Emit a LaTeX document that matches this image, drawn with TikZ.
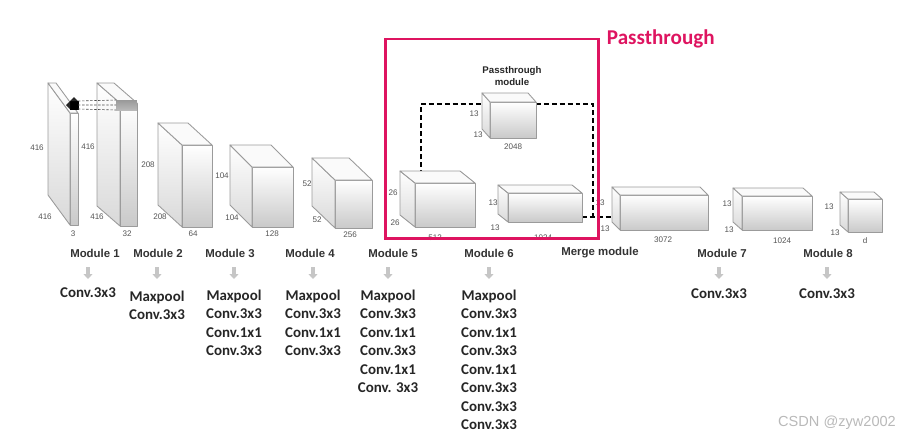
\documentclass[tikz,border=0pt]{standalone}
\usepackage{fontspec}
\setmainfont{Carlito}
\newfontfamily\labfont{Liberation Sans}
\usetikzlibrary{arrows.meta,positioning,calc,backgrounds}
\definecolor{edgegray}{RGB}{155,155,155}
\definecolor{passpink}{RGB}{222,20,96}
\definecolor{dimgray}{RGB}{85,85,85}

\tikzset{
    box3d/.style 2 args={draw=edgegray, line width=0.5pt, line join=round, top color=white, bottom color=gray!42, anchor=north west, minimum width=#1*0.02cm, minimum height=#2*0.02cm}
}

% side and top faces behind a front-face node
\newcommand{\cubefaces}[3]{%
  \shadedraw[sideface] (#1.north west) -- (#1.south west) -- ++(#2,#3) -- ($(#1.north west)+(#2,#3)$) -- cycle;
  \filldraw[topface] (#1.north west) -- (#1.north east) -- ++(#2,#3) -- ($(#1.north west)+(#2,#3)$) -- cycle;
}

\begin{document}
\begin{tikzpicture}[
    x=0.02cm, y=-0.02cm,
    every node/.style={inner sep=0pt, outer sep=0pt},
    sideface/.style={draw=edgegray, line width=0.5pt, line join=round, top color=white, bottom color=gray!30},
    topface/.style={draw=edgegray, line width=0.5pt, line join=round, fill=gray!4},
    dim/.style={font=\labfont\fontsize{4.6}{5}\selectfont, text=dimgray},
    modlab/.style={font=\labfont\bfseries\fontsize{6.5}{7.5}\selectfont, text=black!80},
    ops/.style={font=\bfseries\fontsize{8.5}{10.5}\selectfont, align=center, anchor=north, text=black!85},
    darr/.style={gray!45, line width=0.07cm, -{Triangle[length=0.1cm, width=0.18cm]}},
    skip/.style={black, line width=1.25pt, dash pattern=on 2.8pt off 1.7pt},
    ktrace/.style={black!70, line width=0.35pt, dash pattern=on 1.4pt off 0.9pt},
    passframe/.style={draw=passpink, line width=1.7pt, anchor=north west, minimum width=4.28cm, minimum height=4cm}
]
\useasboundingbox (0,0) rectangle (908,440);

% feature maps
\node[box3d={8}{112}] (in3) at (70,113) {};
\cubefaces{in3}{-22}{-30}
\node[box3d={17}{123}] (f32) at (120,103) {};
\cubefaces{f32}{-23}{-20}
\node[box3d={30}{82}] (f64) at (182,145) {};
\cubefaces{f64}{-24}{-22}
\node[box3d={41}{60}] (f128) at (252,167) {};
\cubefaces{f128}{-22}{-22}
\node[box3d={37}{48}] (f256) at (335,180) {};
\cubefaces{f256}{-23}{-22}
\node[box3d={60}{44}] (f512) at (415,183) {};
\cubefaces{f512}{-15}{-12}
\node[box3d={46}{36}] (f2048) at (490,102) {};
\cubefaces{f2048}{-8}{-9}
\node[box3d={74}{29}] (f1024) at (508,193) {};
\cubefaces{f1024}{-10}{-8}
\node[box3d={88}{35}] (f3072) at (620,195) {};
\cubefaces{f3072}{-8}{-8}
\node[box3d={70}{34}] (g1024) at (742,196) {};
\cubefaces{g1024}{-9}{-8}
\node[box3d={34}{33}] (fd) at (848,199) {};
\cubefaces{fd}{-8}{-7}

% kernel and its patch
\node[fill=black, draw=black, anchor=north west, minimum width=0.16cm, minimum height=0.16cm] (kern) at (70,101) {};
\fill[black!85] (kern.north west) -- (kern.south west) -- ++(-4,-4) -- ($(kern.north east)+(-4,-4)$) -- (kern.north east) -- cycle;
\node[top color=gray!80, bottom color=gray!55, anchor=north west, minimum width=0.42cm, minimum height=0.2cm] (patch) at (116,100) {};
\draw[ktrace] (kern.north east) -- (patch.north west);
\draw[ktrace] (kern.east) -- (patch.west);
\draw[ktrace] (kern.south east) -- (patch.south west);

% passthrough route
\begin{scope}[on background layer]
\coordinate (ptin) at ($(f2048.north west)+(0,2)$);
\coordinate (ptout) at ($(f2048.north east)+(0,2)$);
\coordinate (joint) at (593,217);
\draw[skip] ($(f512.north west)+(6,0)$) |- (ptin);
\draw[skip] (ptout) -| (joint);
\draw[skip] (f1024.east |- joint) -- (f3072.west |- joint);
\end{scope}

% sizes
\node[dim] (d1a) at (37,148) {416}; \node[dim] (d1b) at (45,217) {416}; \node[dim] (d1c) at (73,234) {3};
\node[dim] (d2a) at (88,147) {416}; \node[dim] (d2b) at (97,217) {416}; \node[dim] (d2c) at (127,234) {32};
\node[dim] (d3a) at (148,165) {208}; \node[dim] (d3b) at (160,217) {208}; \node[dim] (d3c) at (193,234) {64};
\node[dim] (d4a) at (222,176) {104}; \node[dim] (d4b) at (232,218) {104}; \node[dim] (d4c) at (272,234) {128};
\node[dim] (d5a) at (307,184) {52}; \node[dim] (d5b) at (317,220) {52}; \node[dim] (d5c) at (350,235) {256};
\node[dim] (d6a) at (393,193) {26}; \node[dim] (d6b) at (395,223) {26}; \node[dim] (d6c) at (435,238) {512};
\node[dim] (d7a) at (474,114) {13}; \node[dim] (d7b) at (478,135) {13}; \node[dim] (d7c) at (513,147) {2048};
\node[dim] (d8a) at (493,203) {13}; \node[dim] (d8b) at (495,228) {13}; \node[dim] (d8c) at (543,238) {1024};
\node[dim] (d9a) at (600,203) {13}; \node[dim] (d9b) at (605,229) {13}; \node[dim] (d9c) at (663,240) {3072};
\node[dim] (d10a) at (727,204) {13}; \node[dim] (d10b) at (729,230) {13}; \node[dim] (d10c) at (782,241) {1024};
\node[dim] (d11a) at (829,207) {13}; \node[dim] (d11b) at (835,233) {13}; \node[dim] (d11c) at (865,241) {d};

\node[font=\labfont\bfseries\fontsize{5.5}{6.8}\selectfont, align=center, text=black!85] (ptcap) at (512,76) {Passthrough\\module};

% module names
\node[modlab] (lab1) at (95,253) {Module 1};
\node[modlab] (lab2) at (158,253) {Module 2};
\node[modlab] (lab3) at (230,253) {Module 3};
\node[modlab] (lab4) at (310,253) {Module 4};
\node[modlab] (lab5) at (393,253) {Module 5};
\node[modlab] (lab6) at (489,253) {Module 6};
\node[modlab] (labm) at (600,253) {Merge module};
\node[modlab] (lab7) at (722,253) {Module 7};
\node[modlab] (lab8) at (828,253) {Module 8};

% layers of each module
\node[ops] (op1) at (88,288) {Conv.3x3};
\node[ops] (op2) at (157,291) {Maxpool\\Conv.3x3};
\node[ops] (op3) at (234,290) {Maxpool\\Conv.3x3\\Conv.1x1\\Conv.3x3};
\node[ops] (op4) at (313,290) {Maxpool\\Conv.3x3\\Conv.1x1\\Conv.3x3};
\node[ops] (op5) at (388,290) {Maxpool\\Conv.3x3\\Conv.1x1\\Conv.3x3\\Conv.1x1\\Conv. 3x3};
\node[ops] (op6) at (489,290) {Maxpool\\Conv.3x3\\Conv.1x1\\Conv.3x3\\Conv.1x1\\Conv.3x3\\Conv.3x3\\Conv.3x3};
\node[ops] (op7) at (719,289) {Conv.3x3};
\node[ops] (op8) at (827,289) {Conv.3x3};

\draw[darr] ($(op1.north |- lab1)+(0,14)$) -- ++(0,12);
\draw[darr] ($(op2.north |- lab2)+(0,14)$) -- ++(0,12);
\draw[darr] ($(op3.north |- lab3)+(0,14)$) -- ++(0,12);
\draw[darr] ($(op4.north |- lab4)+(0,14)$) -- ++(0,12);
\draw[darr] ($(op5.north |- lab5)+(0,14)$) -- ++(0,12);
\draw[darr] ($(op6.north |- lab6)+(0,14)$) -- ++(0,12);
\draw[darr] ($(op7.north |- lab7)+(0,14)$) -- ++(0,12);
\draw[darr] ($(op8.north |- lab8)+(0,14)$) -- ++(0,12);

% passthrough frame
\node[passframe] (passbox) at (385,39) {};
\node[font=\bfseries\fontsize{12}{14}\selectfont, text=passpink, anchor=base west] (passtitle) at ($(passbox.north east)+(8,5)$) {Passthrough};

\node[font=\labfont\fontsize{8.3}{10}\selectfont, text=gray!55] (wm) at (837,423) {CSDN @zyw2002};
\end{tikzpicture}
\end{document}
